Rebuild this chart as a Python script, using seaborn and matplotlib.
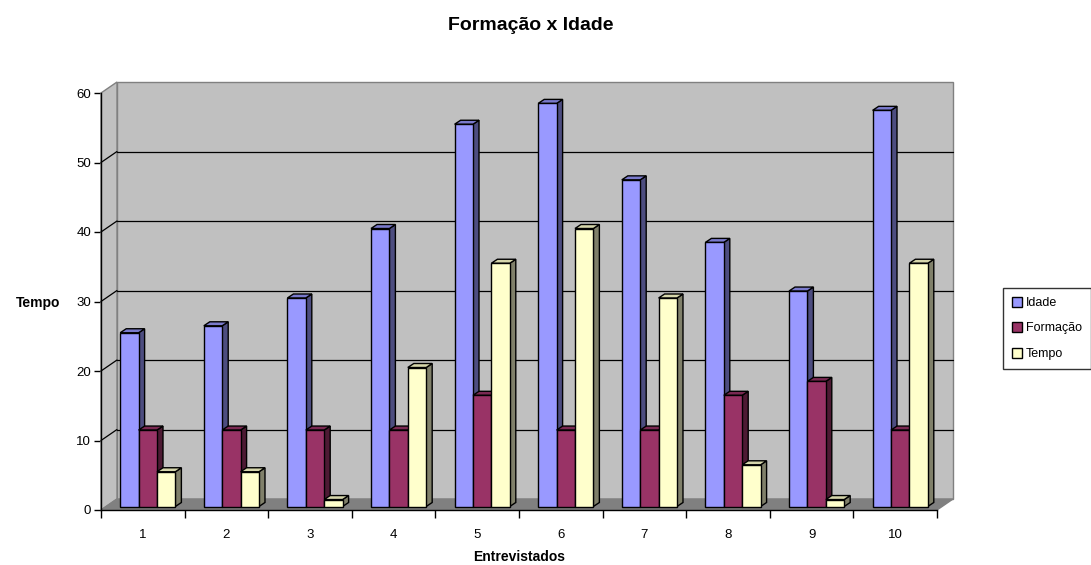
import numpy as np
import pandas as pd
import seaborn as sns
import matplotlib
matplotlib.use('Agg')
import matplotlib.pyplot as plt
from matplotlib.patches import Polygon, Patch, Rectangle

entrevistados = ['1', '2', '3', '4', '5', '6', '7', '8', '9', '10']
series = ['Idade', 'Formação', 'Tempo']
idade = [25, 26, 30, 40, 55, 58, 47, 38, 31, 57]
formacao = [11, 11, 11, 11, 16, 11, 11, 16, 18, 11]
tempo = [5, 5, 1, 20, 35, 40, 30, 6, 1, 35]
yticks = [0, 10, 20, 30, 40, 50, 60]

front = ['#9999ff', '#993366', '#ffffcc']
side = ['#4d4d80', '#4d1a33', '#80806a']
top = ['#7a7acc', '#7a2952', '#d6d6ab']

df = pd.DataFrame({'entrevistado': entrevistados * 3,
                   'serie': np.repeat(series, len(entrevistados)),
                   'valor': idade + formacao + tempo})

sns.set_style('white')
plt.rcParams['font.family'] = ['Liberation Sans', 'DejaVu Sans']
plt.rcParams['text.color'] = 'black'
plt.rcParams['axes.labelcolor'] = 'black'
plt.rcParams['xtick.color'] = 'black'
plt.rcParams['ytick.color'] = 'black'

W, H = 1091, 565
fig = plt.figure(figsize=(W / 100, H / 100), dpi=100)
ax = fig.add_axes([101 / W, 1 - 510 / H, 836 / W, 417 / H])
ax.set_xlim(-0.5, 9.5)
ax.set_ylim(0, 60)
ax.patch.set_visible(False)

# pixel -> data units
px = 10 / 836
py = 60 / 417

def off(x, y, dx, dy):
    return (x + dx * px, y + dy * py)

sns.barplot(data=df, x='entrevistado', y='valor', hue='serie', hue_order=series, order=entrevistados,
            palette=front, width=0.66, saturation=1, edgecolor='black', linewidth=1,
            legend=False, ax=ax)
bars = [b for b in ax.patches if isinstance(b, Rectangle)]

# walls and floor (3D look)
wx, wy = 16, 11
ax.add_patch(Polygon([off(-0.5, 0, wx, wy), off(9.5, 0, wx, wy), off(9.5, 60, wx, wy), off(-0.5, 60, wx, wy)],
                     closed=True, facecolor='#c0c0c0', edgecolor='#808080', lw=1, zorder=0.5, clip_on=False))
ax.add_patch(Polygon([(-0.5, 0), (-0.5, 60), off(-0.5, 60, wx, wy), off(-0.5, 0, wx, wy)],
                     closed=True, facecolor='#c0c0c0', edgecolor='#808080', lw=1, zorder=0.6, clip_on=False))
ax.add_patch(Polygon([(-0.5, 0), (9.5, 0), off(9.5, 0, wx, wy), off(-0.5, 0, wx, wy)],
                     closed=True, facecolor='#808080', edgecolor='#808080', lw=1, zorder=0.7, clip_on=False))
for v in yticks[1:-1]:
    a, b = off(-0.5, v, wx, wy), off(9.5, v, wx, wy)
    ax.plot([a[0], b[0]], [a[1], b[1]], color='black', lw=0.9, zorder=1, clip_on=False)
    ax.plot([-0.5, a[0]], [v, a[1]], color='black', lw=0.9, zorder=1, clip_on=False)

n = len(entrevistados)
order = sorted(range(len(bars)), key=lambda i: bars[i].get_x())
bdx, bdy = 5, 3.5
ddx, ddy = 6 * px, 4 * py
for rank, i in enumerate(order):
    p = bars[i]
    s = i // n
    z = 3 + rank * 0.01
    x0 = p.get_x() + bdx * px
    y0 = bdy * py
    w = p.get_width()
    h = p.get_height()
    p.set_x(x0)
    p.set_y(y0)
    p.set_zorder(z)
    p.set_clip_on(False)
    x1, y1 = x0 + w, y0 + h
    ax.add_patch(Polygon([(x1, y0), (x1, y1), (x1 + ddx, y1 + ddy), (x1 + ddx, y0 + ddy)], closed=True,
                         facecolor=side[s], edgecolor='black', lw=1, zorder=z - 0.005, clip_on=False))
    ax.add_patch(Polygon([(x0, y1), (x1, y1), (x1 + ddx, y1 + ddy), (x0 + ddx, y1 + ddy)], closed=True,
                         facecolor=top[s], edgecolor='black', lw=1, zorder=z - 0.005, clip_on=False))

for sp in ['top', 'right']:
    ax.spines[sp].set_visible(False)
for sp in ['left', 'bottom']:
    ax.spines[sp].set_color('black')
    ax.spines[sp].set_linewidth(1)
    ax.spines[sp].set_zorder(2)

ax.set_yticks(yticks)
ax.set_yticklabels([str(v) for v in yticks], fontsize=9.5)
ax.tick_params(axis='y', direction='out', length=5, width=1, color='black', left=True, pad=2)
ax.set_xticks(range(n))
ax.set_xticklabels(entrevistados, fontsize=9.5)
ax.set_xticks(np.arange(-0.5, n, 1), minor=True)
ax.tick_params(axis='x', which='major', length=0, pad=14)
ax.tick_params(axis='x', which='minor', direction='out', length=6, width=1, color='black', bottom=True)

ax.set_xlabel('Entrevistados', fontsize=10, fontweight='bold')
ax.xaxis.set_label_coords((519 - 101) / 836, -(557 - 510) / 417)
ax.xaxis.label.set_va('center')
ax.set_ylabel('Tempo', fontsize=10, fontweight='bold', rotation=0, ha='center', va='center')
ax.yaxis.set_label_coords((38 - 101) / 836, (510 - 303) / 417)

fig.text(531 / W, 1 - 26 / H, 'Formação x Idade', ha='center', va='center', fontsize=14, fontweight='bold')

handles = [Patch(facecolor=c, edgecolor='black', lw=1, label=l) for c, l in zip(front, series)]
fig.legend(handles=handles, loc='upper left', bbox_to_anchor=(1003 / W, 1 - 288 / H), frameon=True,
           fancybox=False, edgecolor='black', fontsize=9, handlelength=0.85, handleheight=0.85,
           handletextpad=0.3, borderaxespad=0, labelspacing=1.05, borderpad=0.7)

fig.savefig('out.png', dpi=100)
